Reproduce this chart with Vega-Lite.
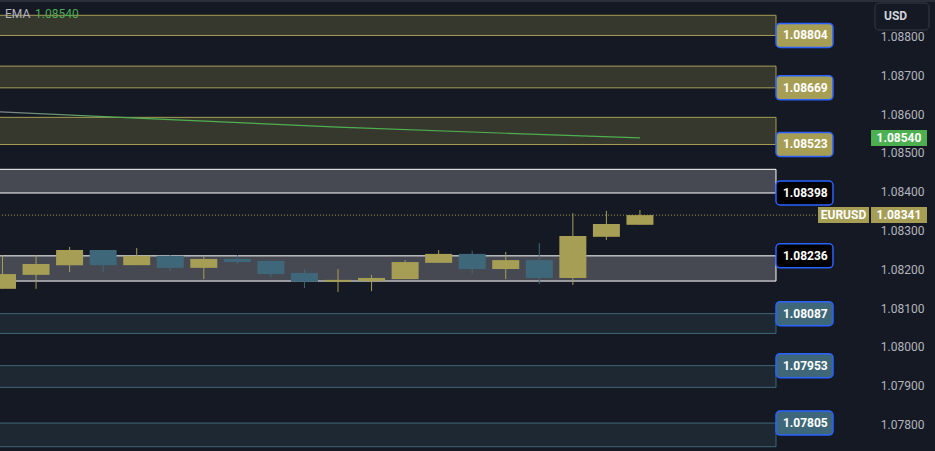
{
  "$schema": "https://vega.github.io/schema/vega-lite/v6.json",
  "width": 870,
  "height": 451,
  "autosize": {"type": "none"},
  "padding": {"left": 0, "top": 0, "right": 65, "bottom": 0},
  "background": "#151924",
  "config": {
    "view": {"stroke": null, "fill": "#151924"},
    "font": "Roboto",
    "text": {"font": "Roboto"}
  },
  "resolve": {"scale": {"fill": "independent", "stroke": "independent"}},
  "datasets": {
    "zones": [
      {"low": 1.08804, "high": 1.08856, "level": 1.08804, "kind": "res"},
      {"low": 1.08669, "high": 1.08725, "level": 1.08669, "kind": "res"},
      {"low": 1.08523, "high": 1.08593, "level": 1.08523, "kind": "res"},
      {"low": 1.08398, "high": 1.08459, "level": 1.08398, "kind": "pivot"},
      {"low": 1.08171, "high": 1.08236, "level": 1.08236, "kind": "pivot"},
      {"low": 1.08036, "high": 1.08087, "level": 1.08087, "kind": "sup"},
      {"low": 1.07897, "high": 1.07953, "level": 1.07953, "kind": "sup"},
      {"low": 1.07744, "high": 1.07805, "level": 1.07805, "kind": "sup"}
    ],
    "candles": [
      {"i": 0, "open": 1.08151, "close": 1.08189, "high": 1.08238, "low": 1.08151},
      {"i": 1, "open": 1.08187, "close": 1.08215, "high": 1.08238, "low": 1.08151},
      {"i": 2, "open": 1.08212, "close": 1.08251, "high": 1.08259, "low": 1.08194},
      {"i": 3, "open": 1.08251, "close": 1.08212, "high": 1.08251, "low": 1.08194},
      {"i": 4, "open": 1.08212, "close": 1.08236, "high": 1.08256, "low": 1.08212},
      {"i": 5, "open": 1.08236, "close": 1.08205, "high": 1.08238, "low": 1.08197},
      {"i": 6, "open": 1.08205, "close": 1.08228, "high": 1.08236, "low": 1.08176},
      {"i": 7, "open": 1.08228, "close": 1.0822, "high": 1.08238, "low": 1.08215},
      {"i": 8, "open": 1.08223, "close": 1.08189, "high": 1.08223, "low": 1.08181},
      {"i": 9, "open": 1.08192, "close": 1.08169, "high": 1.08202, "low": 1.08153},
      {"i": 10, "open": 1.08169, "close": 1.08174, "high": 1.08202, "low": 1.08143},
      {"i": 11, "open": 1.08171, "close": 1.08179, "high": 1.08187, "low": 1.08145},
      {"i": 12, "open": 1.08176, "close": 1.0822, "high": 1.08225, "low": 1.08176},
      {"i": 13, "open": 1.08218, "close": 1.08241, "high": 1.08251, "low": 1.08218},
      {"i": 14, "open": 1.08241, "close": 1.08202, "high": 1.08249, "low": 1.08189},
      {"i": 15, "open": 1.08202, "close": 1.08225, "high": 1.08246, "low": 1.08176},
      {"i": 16, "open": 1.08225, "close": 1.08179, "high": 1.08269, "low": 1.08163},
      {"i": 17, "open": 1.08179, "close": 1.08287, "high": 1.08346, "low": 1.08161},
      {"i": 18, "open": 1.08285, "close": 1.08318, "high": 1.08352, "low": 1.08277},
      {"i": 19, "open": 1.08316, "close": 1.08341, "high": 1.08354, "low": 1.08316}
    ],
    "ema": [
      {"i": -0.1, "v": 1.08607},
      {"i": 5, "v": 1.08587},
      {"i": 10, "v": 1.08568},
      {"i": 15, "v": 1.08552},
      {"i": 19, "v": 1.0854}
    ],
    "priceTicks": [
      {"p": 1.078}, {"p": 1.079}, {"p": 1.08}, {"p": 1.081}, {"p": 1.082}, {"p": 1.083},
      {"p": 1.084}, {"p": 1.085}, {"p": 1.086}, {"p": 1.087}, {"p": 1.088}
    ],
    "last": [{"price": 1.08341, "name": "EURUSD"}],
    "tags": [
      {"price": 1.08341, "kind": "last"},
      {"price": 1.0854, "kind": "ema"}
    ],
    "header": [{"price": 1.08853, "name": "USD", "top": 1.088876, "bottom": 1.08818}],
    "legend": [{"price": 1.088593, "name": "EMA", "value": "1.08540"}]
  },
  "layer": [
    {
      "data": {"name": "zones"},
      "mark": {"type": "rect", "strokeWidth": 1},
      "encoding": {
        "x": {"datum": -1, "type": "quantitative", "scale": {"domain": [-0.0745, 25.857], "nice": false, "zero": false, "padding": 0}, "axis": null},
        "x2": {"datum": 23.055},
        "y": {"field": "low", "type": "quantitative", "scale": {"domain": [1.07733, 1.088954], "nice": false, "zero": false}, "axis": null},
        "y2": {"field": "high"},
        "fill": {"field": "kind", "type": "nominal", "scale": {"domain": ["res", "pivot", "sup"], "range": ["#37382d", "#464952", "#1e2833"]}, "legend": null},
        "stroke": {"field": "kind", "type": "nominal", "scale": {"domain": ["res", "pivot", "sup"], "range": ["#a79e55", "#ffffff", "#3f6677"]}, "legend": null}
      }
    },
    {
      "data": {"name": "priceTicks"},
      "mark": {"type": "text", "align": "left", "baseline": "middle", "color": "#b2b5be", "fontSize": 12},
      "encoding": {
        "x": {"datum": 26.18, "type": "quantitative", "axis": null},
        "y": {"field": "p", "type": "quantitative", "axis": null},
        "text": {"field": "p", "type": "quantitative", "format": ".5f"}
      }
    },
    {
      "data": {"name": "ema"},
      "mark": {"type": "line", "strokeWidth": 1.2, "stroke": {"gradient": "linear", "x1": 0, "x2": 1, "y1": 0, "y2": 0, "stops": [{"offset": 0, "color": "#7d8289"}, {"offset": 0.2, "color": "#4caf50"}, {"offset": 1, "color": "#4caf50"}]}},
      "encoding": {
        "x": {"field": "i", "type": "quantitative", "axis": null},
        "y": {"field": "v", "type": "quantitative", "axis": null}
      }
    },
    {
      "data": {"name": "candles"},
      "mark": {"type": "rule", "strokeWidth": 1},
      "encoding": {
        "x": {"field": "i", "type": "quantitative", "axis": null},
        "y": {"field": "high", "type": "quantitative", "axis": null},
        "y2": {"field": "low"},
        "color": {"condition": {"test": "datum.open < datum.close", "value": "#a79e55"}, "value": "#3e6879"}
      }
    },
    {
      "data": {"name": "candles"},
      "mark": {"type": "bar", "orient": "vertical", "width": 27},
      "encoding": {
        "x": {"field": "i", "type": "quantitative", "axis": null},
        "y": {"field": "open", "type": "quantitative", "axis": null},
        "y2": {"field": "close"},
        "color": {"condition": {"test": "datum.open < datum.close", "value": "#a79e55"}, "value": "#3e6879"}
      }
    },
    {
      "data": {"name": "last"},
      "mark": {"type": "rule", "strokeDash": [1, 2], "strokeWidth": 1, "color": "#a79e55"},
      "encoding": {
        "x": {"datum": -1, "type": "quantitative", "axis": null},
        "x2": {"datum": 24.307},
        "y": {"field": "price", "type": "quantitative", "axis": null}
      }
    },
    {
      "data": {"name": "zones"},
      "mark": {"type": "rect", "cornerRadius": 4, "stroke": "#2962ff", "strokeWidth": 1.5, "yOffset": -12, "y2Offset": 12},
      "encoding": {
        "x": {"datum": 23.055, "type": "quantitative", "axis": null},
        "x2": {"datum": 24.754},
        "y": {"field": "level", "type": "quantitative", "axis": null},
        "y2": {"field": "level"},
        "fill": {"field": "kind", "type": "nominal", "scale": {"domain": ["res", "pivot", "sup"], "range": ["#a79e55", "#000000", "#3e6879"]}, "legend": null}
      }
    },
    {
      "data": {"name": "zones"},
      "mark": {"type": "text", "align": "center", "baseline": "middle", "color": "#ffffff", "fontSize": 12, "fontWeight": "bold"},
      "encoding": {
        "x": {"datum": 23.93, "type": "quantitative", "axis": null},
        "y": {"field": "level", "type": "quantitative", "axis": null},
        "text": {"field": "level", "type": "quantitative", "format": ".5f"}
      }
    },
    {
      "data": {"name": "last"},
      "mark": {"type": "rect", "fill": "#a79e55", "yOffset": -8, "y2Offset": 8},
      "encoding": {
        "x": {"datum": 24.307, "type": "quantitative", "axis": null},
        "x2": {"datum": 25.827},
        "y": {"field": "price", "type": "quantitative", "axis": null},
        "y2": {"field": "price"}
      }
    },
    {
      "data": {"name": "last"},
      "mark": {"type": "text", "align": "center", "baseline": "middle", "color": "#ffffff", "fontSize": 12, "fontWeight": "bold"},
      "encoding": {
        "x": {"datum": 25.067, "type": "quantitative", "axis": null},
        "y": {"field": "price", "type": "quantitative", "axis": null},
        "text": {"field": "name"}
      }
    },
    {
      "data": {"name": "tags"},
      "mark": {"type": "rect", "yOffset": -8, "y2Offset": 8},
      "encoding": {
        "x": {"datum": 25.887, "type": "quantitative", "axis": null},
        "x2": {"datum": 27.556},
        "y": {"field": "price", "type": "quantitative", "axis": null},
        "y2": {"field": "price"},
        "fill": {"field": "kind", "type": "nominal", "scale": {"domain": ["last", "ema"], "range": ["#a79e55", "#4caf50"]}, "legend": null}
      }
    },
    {
      "data": {"name": "tags"},
      "mark": {"type": "text", "align": "center", "baseline": "middle", "color": "#ffffff", "fontSize": 12, "fontWeight": "bold"},
      "encoding": {
        "x": {"datum": 26.72, "type": "quantitative", "axis": null},
        "y": {"field": "price", "type": "quantitative", "axis": null},
        "text": {"field": "price", "type": "quantitative", "format": ".5f"}
      }
    },
    {
      "data": {"name": "header"},
      "mark": {"type": "rect", "cornerRadius": 4, "fill": "#151924", "stroke": "#363a45", "strokeWidth": 1},
      "encoding": {
        "x": {"datum": 26.006, "type": "quantitative", "axis": null},
        "x2": {"datum": 27.616},
        "y": {"field": "top", "type": "quantitative", "axis": null},
        "y2": {"field": "bottom"}
      }
    },
    {
      "data": {"name": "header"},
      "mark": {"type": "text", "align": "left", "baseline": "middle", "color": "#d1d4dc", "fontSize": 12, "fontWeight": "bold"},
      "encoding": {
        "x": {"datum": 26.274, "type": "quantitative", "axis": null},
        "y": {"field": "price", "type": "quantitative", "axis": null},
        "text": {"field": "name"}
      }
    },
    {
      "data": {"name": "legend"},
      "mark": {"type": "text", "align": "left", "baseline": "middle", "color": "#b2b5be", "fontSize": 12},
      "encoding": {
        "x": {"datum": 0.075, "type": "quantitative", "axis": null},
        "y": {"field": "price", "type": "quantitative", "axis": null},
        "text": {"field": "name"}
      }
    },
    {
      "data": {"name": "legend"},
      "mark": {"type": "text", "align": "left", "baseline": "middle", "color": "#4caf50", "fontSize": 12},
      "encoding": {
        "x": {"datum": 0.969, "type": "quantitative", "axis": null},
        "y": {"field": "price", "type": "quantitative", "axis": null},
        "text": {"field": "value"}
      }
    },
    {
      "data": {"values": [{"edge": 1.08893}]},
      "mark": {"type": "rule", "color": "#2a2e39", "strokeWidth": 2},
      "encoding": {
        "x": {"datum": -1, "type": "quantitative", "axis": null},
        "x2": {"datum": 28},
        "y": {"field": "edge", "type": "quantitative", "axis": null}
      }
    }
  ]
}
